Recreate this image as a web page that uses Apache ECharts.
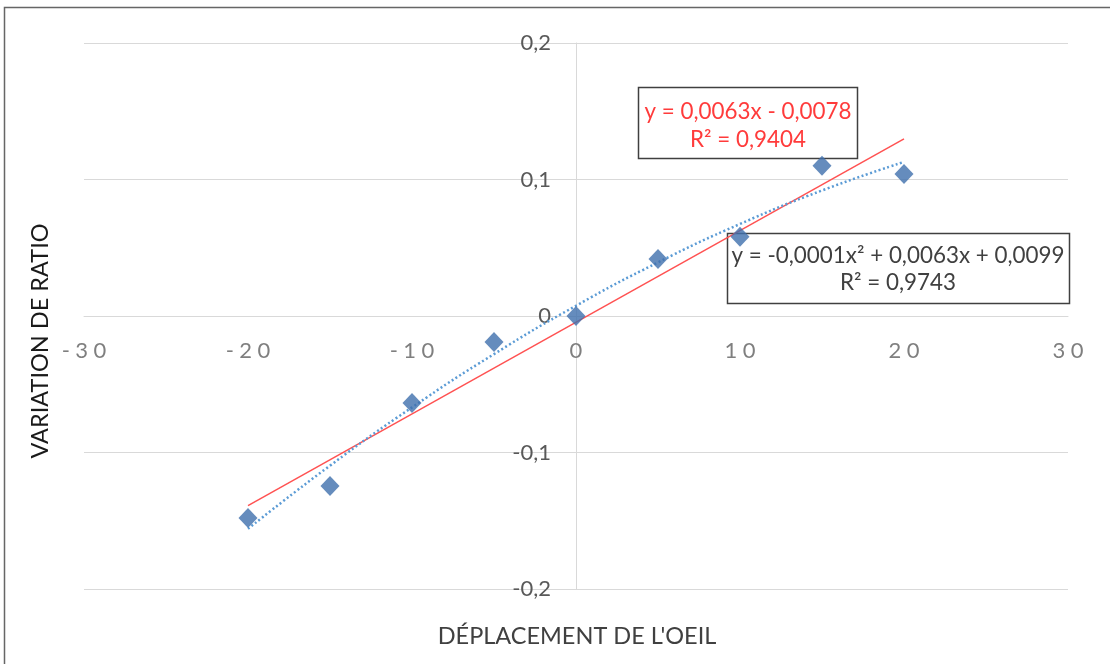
<!DOCTYPE html>
<html>
<head>
<meta charset="utf-8">
<script src="https://cdn.jsdelivr.net/npm/echarts@6/dist/echarts.min.js"></script>
<style>
  html, body { margin: 0; padding: 0; background: #fff; }
  #chart { width: 1110px; height: 664px; }
</style>
</head>
<body>
<div id="chart"></div>
<script>
// Eye displacement vs. ratio variation
const displacement = [-20, -15, -10, -5, 0, 5, 10, 15, 20];
const ratioVariation = [-0.148, -0.1245, -0.0637, -0.019, 0, 0.0418, 0.058, 0.110, 0.104];
const xTicks = [-30, -20, -10, 0, 10, 20, 30];
const yTicks = [-0.2, -0.1, 0, 0.1, 0.2];
const linearLabel = ['y = 0,0063x - 0,0078', 'R² = 0,9404'];
const polyLabel = ['y = -0,0001x² + 0,0063x + 0,0099', 'R² = 0,9743'];
const xTitle = "DÉPLACEMENT DE L'OEIL";
const yTitle = 'VARIATION DE RATIO';

// Least-squares fits (linear and second order) of the measured points
function solve3(A, b) {
  const M = A.map((r, i) => r.concat([b[i]]));
  for (let c = 0; c < 3; c++) {
    let p = c;
    for (let r = c + 1; r < 3; r++) if (Math.abs(M[r][c]) > Math.abs(M[p][c])) p = r;
    [M[c], M[p]] = [M[p], M[c]];
    for (let r = 0; r < 3; r++) {
      if (r === c) continue;
      const f = M[r][c] / M[c][c];
      for (let k = c; k < 4; k++) M[r][k] -= f * M[c][k];
    }
  }
  return M.map((r, i) => r[3] / r[i]);
}
function linearFit(xs, ys) {
  const n = xs.length;
  const mx = xs.reduce((a, v) => a + v, 0) / n;
  const my = ys.reduce((a, v) => a + v, 0) / n;
  let sxy = 0, sxx = 0;
  xs.forEach((x, i) => { sxy += (x - mx) * (ys[i] - my); sxx += (x - mx) * (x - mx); });
  const a = sxy / sxx;
  return { a, b: my - a * mx };
}
function quadFit(xs, ys) {
  const S = k => xs.reduce((a, x) => a + Math.pow(x, k), 0);
  const T = k => xs.reduce((a, x, i) => a + Math.pow(x, k) * ys[i], 0);
  const A = [[S(0), S(1), S(2)], [S(1), S(2), S(3)], [S(2), S(3), S(4)]];
  const c = solve3(A, [T(0), T(1), T(2)]);
  return { c0: c[0], c1: c[1], c2: c[2] };
}

const lin = linearFit(displacement, ratioVariation);
const quad = quadFit(displacement, ratioVariation);
const xFirst = displacement[0], xLast = displacement[displacement.length - 1];
const linearLine = [[xFirst, lin.a * xFirst + lin.b], [xLast, lin.a * xLast + lin.b]];
const polyLine = displacement.map(x => [x, quad.c0 + quad.c1 * x + quad.c2 * x * x]);

const FONT = 'Lato, "Open Sans", sans-serif';

// Plot area; the axes cross at the origin, so each axis is shifted inward
const GRID = { left: 84, right: 42, top: 43, bottom: 75 };
const W = 1110, H = 664;
const xMin = xTicks[0], xMax = xTicks[xTicks.length - 1];
const yMin = yTicks[0], yMax = yTicks[yTicks.length - 1];
const plotW = W - GRID.left - GRID.right;
const plotH = H - GRID.top - GRID.bottom;
const yAxisShift = -plotW * (0 - xMin) / (xMax - xMin);
const xAxisShift = -plotH * (0 - yMin) / (yMax - yMin);

const chart = echarts.init(document.getElementById('chart'), null, { renderer: 'canvas' });

chart.setOption({
  backgroundColor: '#ffffff',
  animation: false,
  grid: Object.assign({ containLabel: false }, GRID),
  xAxis: {
    type: 'value',
    position: 'bottom',
    offset: xAxisShift,
    min: xMin,
    max: xMax,
    interval: 10,
    axisLine: { show: true, onZero: false, lineStyle: { color: '#d9d9d9', width: 1 } },
    axisTick: { show: false },
    splitLine: { show: false },
    axisLabel: {
      margin: 24,
      color: '#7f7f7f',
      fontSize: 22,
      fontFamily: FONT,
      formatter: v => String(v).split('').join('\u2005')
    }
  },
  yAxis: {
    type: 'value',
    position: 'left',
    offset: yAxisShift,
    min: yMin,
    max: yMax,
    interval: 0.1,
    axisLine: { show: true, onZero: false, lineStyle: { color: '#d9d9d9', width: 1 } },
    axisTick: { show: false },
    splitLine: { show: true, lineStyle: { color: '#d9d9d9', width: 1 } },
    axisLabel: {
      margin: 25,
      color: '#595959',
      fontSize: 22,
      fontFamily: FONT,
      formatter: v => (Math.round(v * 10) / 10).toString().replace('.', ',')
    }
  },
  series: [
    {
      name: 'Linéaire',
      type: 'line',
      data: linearLine,
      symbol: 'none',
      lineStyle: { color: '#ff5252', width: 1.5 },
      z: 3
    },
    {
      name: 'Polynomiale',
      type: 'line',
      data: polyLine,
      smooth: true,
      symbol: 'none',
      lineStyle: { color: '#5b9bd5', width: 2.5, type: [2, 2.5] },
      z: 3
    },
    {
      name: 'Mesures',
      type: 'scatter',
      data: displacement.map((x, i) => [x, ratioVariation[i]]),
      symbol: 'diamond',
      symbolSize: [19, 20],
      itemStyle: { color: '#3f6fad' },
      z: 4
    }
  ],
  graphic: [
    {
      type: 'rect',
      shape: { x: 4.5, y: 7.5, width: 1300, height: 900 },
      style: { fill: 'none', stroke: '#666666', lineWidth: 1.5 },
      silent: true, z: 0
    },
    {
      type: 'text',
      x: 577, y: 636,
      style: { text: xTitle, font: '23.5px ' + FONT, fill: '#404040', align: 'center', verticalAlign: 'middle' }
    },
    {
      type: 'text',
      x: 40, y: 341,
      rotation: Math.PI / 2,
      style: { text: yTitle, font: '23.5px ' + FONT, fill: '#1a1a1a', align: 'center', verticalAlign: 'middle' }
    },
    {
      type: 'group',
      z: 10,
      children: [
        {
          type: 'rect',
          shape: { x: 638.5, y: 87.5, width: 219, height: 71 },
          style: { fill: '#ffffff', stroke: '#404040', lineWidth: 1.5 }
        },
        {
          type: 'text',
          x: 748, y: 112,
          style: { text: linearLabel[0], font: '22.4px ' + FONT, fill: '#ff3b3b', align: 'center', verticalAlign: 'middle' }
        },
        {
          type: 'text',
          x: 748, y: 140,
          style: { text: linearLabel[1], font: '22.4px ' + FONT, fill: '#ff3b3b', align: 'center', verticalAlign: 'middle' }
        }
      ]
    },
    {
      type: 'group',
      z: 10,
      children: [
        {
          type: 'rect',
          shape: { x: 727.5, y: 233.5, width: 342, height: 70 },
          style: { fill: '#ffffff', stroke: '#404040', lineWidth: 1.5 }
        },
        {
          type: 'text',
          x: 898, y: 256,
          style: { text: polyLabel[0], font: '22.4px ' + FONT, fill: '#404040', align: 'center', verticalAlign: 'middle' }
        },
        {
          type: 'text',
          x: 898, y: 283,
          style: { text: polyLabel[1], font: '22.4px ' + FONT, fill: '#404040', align: 'center', verticalAlign: 'middle' }
        }
      ]
    }
  ]
});
</script>
</body>
</html>
